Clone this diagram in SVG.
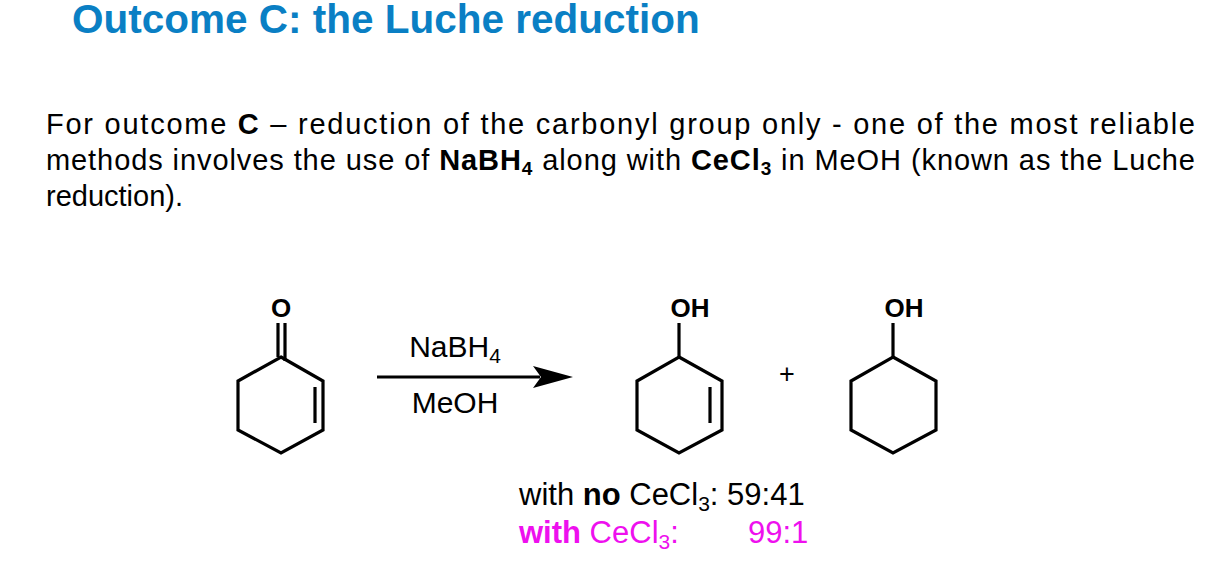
<svg xmlns="http://www.w3.org/2000/svg" width="1219" height="586" viewBox="0 0 1219 586">
<style>
text{font-family:"Liberation Sans",Arial,sans-serif;fill:#000}
.t{fill:#0a7fc4;font-weight:bold;font-size:40.5px}
.p{font-size:29px}
.b{stroke:#000;stroke-width:3.2;fill:none;stroke-linejoin:miter}
.l{font-size:26px;font-weight:bold;text-anchor:middle}
.r{font-size:30px;text-anchor:middle}
.m{fill:#ee10ee}
</style>
<rect width="1219" height="586" fill="#fff"/>
<text class="t" x="72" y="33">Outcome C: the Luche reduction</text>
<text class="p" x="46" y="134" textLength="1149" lengthAdjust="spacing">For outcome <tspan font-weight="bold">C</tspan> – reduction of the carbonyl group only - one of the most reliable</text>
<text class="p" x="46" y="170" textLength="1149" lengthAdjust="spacing">methods involves the use of <tspan font-weight="bold">NaBH<tspan font-size="19" dy="5">4</tspan></tspan><tspan dy="-5"> along with </tspan><tspan font-weight="bold">CeCl<tspan font-size="19" dy="5">3</tspan></tspan><tspan dy="-5"> in MeOH (known as the Luche</tspan></text>
<text class="p" x="46" y="206">reduction).</text>
<g id="reactant">
<polygon class="b" points="281,357 323,381 323,430 281,453 238,430 238,381"/>
<line class="b" x1="315" y1="387" x2="315" y2="423"/>
<line class="b" x1="278" y1="323" x2="278" y2="357"/>
<line class="b" x1="285" y1="323" x2="285" y2="361"/>
<text class="l" x="281" y="317">O</text>
</g>
<g id="connectors">
<line x1="377" y1="377" x2="540" y2="377" stroke="#000" stroke-width="3.2"/>
<polygon points="573,377 533,366 541,377 533,388" fill="#000"/>
</g>
<g id="conditions">
<text class="r" x="455" y="357">NaBH<tspan font-size="21" dy="6">4</tspan></text>
<text class="r" x="455" y="413">MeOH</text>
</g>
<g id="product1">
<polygon class="b" points="679,357 722,381 722,430 679,453 637,430 637,381"/>
<line class="b" x1="679" y1="323" x2="679" y2="357"/>
<line class="b" x1="710" y1="387" x2="710" y2="423"/>
<text class="l" x="690" y="317">OH</text>
</g>
<text x="787" y="383" font-size="27" text-anchor="middle">+</text>
<g id="product2">
<polygon class="b" points="893,357 936,381 936,430 893,453 851,430 851,381"/>
<line class="b" x1="893" y1="323" x2="893" y2="357"/>
<text class="l" x="904" y="317">OH</text>
</g>
<g id="ratios">
<text x="519" y="505" font-size="31">with <tspan font-weight="bold">no</tspan> CeCl<tspan font-size="21" dy="6">3</tspan><tspan dy="-6">: 59:41</tspan></text>
<text x="519" y="543" font-size="31" class="m"><tspan font-weight="bold">with</tspan> CeCl<tspan font-size="21" dy="6">3</tspan><tspan dy="-6">:</tspan></text>
<text x="748" y="543" font-size="31" class="m">99:1</text>
</g>
</svg>
